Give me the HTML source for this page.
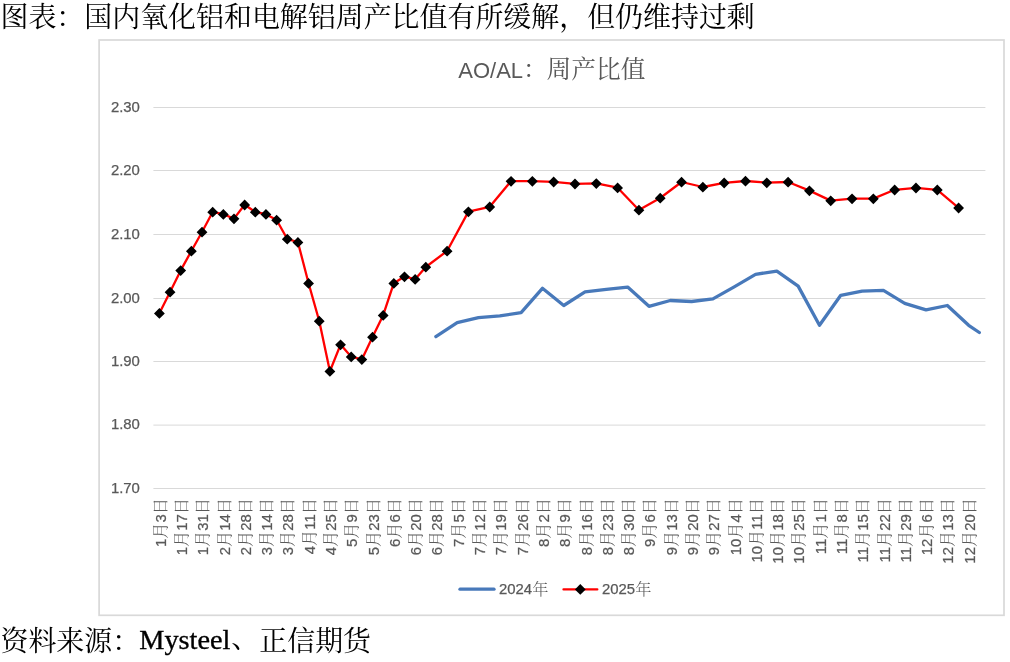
<!DOCTYPE html>
<html lang="zh-CN"><head><meta charset="utf-8"><title>chart</title>
<style>
html,body{margin:0;padding:0;background:#fff}
body{width:1010px;height:662px;position:relative;overflow:hidden}
.cap{position:absolute;left:0.5px;white-space:nowrap;font-family:"Liberation Serif","Noto Serif CJK SC",serif;font-size:27.95px;line-height:28px;color:#000;margin:0}
#t1{top:4.3px}
#t2{top:628.3px}
.lat{position:relative;left:-0.9px;top:-2.8px;font-size:28.3px;-webkit-text-stroke:0.35px #000}
.pc{position:relative;top:-3px}
svg text{font-family:"Liberation Sans","Noto Serif CJK SC",sans-serif;fill:#595959}
.ax{font-size:14.9px}
.ax text{font-size:14.9px}
.ax text,text.ax{stroke:#595959;stroke-width:0.25px}
.cj{font-family:"Noto Serif CJK SC",serif;font-size:16.2px;font-weight:300;stroke:none}
.ttl{font-size:22.0px}
.tcj{font-family:"Noto Serif CJK SC",serif;font-size:24.7px}
</style></head><body>
<svg width="1010" height="662" viewBox="0 0 1010 662" style="position:absolute;left:0;top:0">
<rect x="99.1" y="40" width="904.9" height="575.3" fill="#fff" stroke="#d9d9d9" stroke-width="1.7"/>
<line x1="153.4" x2="985.4" y1="107.5" y2="107.5" stroke="#d9d9d9" stroke-width="1"/>
<line x1="153.4" x2="985.4" y1="170.5" y2="170.5" stroke="#d9d9d9" stroke-width="1"/>
<line x1="153.4" x2="985.4" y1="234.5" y2="234.5" stroke="#d9d9d9" stroke-width="1"/>
<line x1="153.4" x2="985.4" y1="298.5" y2="298.5" stroke="#d9d9d9" stroke-width="1"/>
<line x1="153.4" x2="985.4" y1="361.5" y2="361.5" stroke="#d9d9d9" stroke-width="1"/>
<line x1="153.4" x2="985.4" y1="425.1" y2="425.1" stroke="#d9d9d9" stroke-width="1"/>
<line x1="153.4" x2="985.4" y1="488.5" y2="488.5" stroke="#d9d9d9" stroke-width="1"/>
<g class="ax" text-anchor="end">
<text x="139.9" y="111.6">2.30</text>
<text x="139.9" y="174.6">2.20</text>
<text x="139.9" y="238.6">2.10</text>
<text x="139.9" y="302.6">2.00</text>
<text x="139.9" y="365.6">1.90</text>
<text x="139.9" y="429.2">1.80</text>
<text x="139.9" y="492.6">1.70</text>
</g>
<g class="ax" text-anchor="end">
<text transform="translate(165.70,498.1) rotate(-90)">1<tspan class="cj">月</tspan>3<tspan class="cj">日</tspan></text>
<text transform="translate(186.99,498.1) rotate(-90)">1<tspan class="cj">月</tspan>17<tspan class="cj">日</tspan></text>
<text transform="translate(208.28,498.1) rotate(-90)">1<tspan class="cj">月</tspan>31<tspan class="cj">日</tspan></text>
<text transform="translate(229.57,498.1) rotate(-90)">2<tspan class="cj">月</tspan>14<tspan class="cj">日</tspan></text>
<text transform="translate(250.86,498.1) rotate(-90)">2<tspan class="cj">月</tspan>28<tspan class="cj">日</tspan></text>
<text transform="translate(272.15,498.1) rotate(-90)">3<tspan class="cj">月</tspan>14<tspan class="cj">日</tspan></text>
<text transform="translate(293.44,498.1) rotate(-90)">3<tspan class="cj">月</tspan>28<tspan class="cj">日</tspan></text>
<text transform="translate(314.73,498.1) rotate(-90)">4<tspan class="cj">月</tspan>11<tspan class="cj">日</tspan></text>
<text transform="translate(336.02,498.1) rotate(-90)">4<tspan class="cj">月</tspan>25<tspan class="cj">日</tspan></text>
<text transform="translate(357.31,498.1) rotate(-90)">5<tspan class="cj">月</tspan>9<tspan class="cj">日</tspan></text>
<text transform="translate(378.60,498.1) rotate(-90)">5<tspan class="cj">月</tspan>23<tspan class="cj">日</tspan></text>
<text transform="translate(399.89,498.1) rotate(-90)">6<tspan class="cj">月</tspan>6<tspan class="cj">日</tspan></text>
<text transform="translate(421.18,498.1) rotate(-90)">6<tspan class="cj">月</tspan>20<tspan class="cj">日</tspan></text>
<text transform="translate(442.47,498.1) rotate(-90)">6<tspan class="cj">月</tspan>28<tspan class="cj">日</tspan></text>
<text transform="translate(463.76,498.1) rotate(-90)">7<tspan class="cj">月</tspan>5<tspan class="cj">日</tspan></text>
<text transform="translate(485.05,498.1) rotate(-90)">7<tspan class="cj">月</tspan>12<tspan class="cj">日</tspan></text>
<text transform="translate(506.34,498.1) rotate(-90)">7<tspan class="cj">月</tspan>19<tspan class="cj">日</tspan></text>
<text transform="translate(527.63,498.1) rotate(-90)">7<tspan class="cj">月</tspan>26<tspan class="cj">日</tspan></text>
<text transform="translate(548.92,498.1) rotate(-90)">8<tspan class="cj">月</tspan>2<tspan class="cj">日</tspan></text>
<text transform="translate(570.21,498.1) rotate(-90)">8<tspan class="cj">月</tspan>9<tspan class="cj">日</tspan></text>
<text transform="translate(591.50,498.1) rotate(-90)">8<tspan class="cj">月</tspan>16<tspan class="cj">日</tspan></text>
<text transform="translate(612.79,498.1) rotate(-90)">8<tspan class="cj">月</tspan>23<tspan class="cj">日</tspan></text>
<text transform="translate(634.08,498.1) rotate(-90)">8<tspan class="cj">月</tspan>30<tspan class="cj">日</tspan></text>
<text transform="translate(655.37,498.1) rotate(-90)">9<tspan class="cj">月</tspan>6<tspan class="cj">日</tspan></text>
<text transform="translate(676.66,498.1) rotate(-90)">9<tspan class="cj">月</tspan>13<tspan class="cj">日</tspan></text>
<text transform="translate(697.95,498.1) rotate(-90)">9<tspan class="cj">月</tspan>20<tspan class="cj">日</tspan></text>
<text transform="translate(719.24,498.1) rotate(-90)">9<tspan class="cj">月</tspan>27<tspan class="cj">日</tspan></text>
<text transform="translate(740.53,498.1) rotate(-90)">10<tspan class="cj">月</tspan>4<tspan class="cj">日</tspan></text>
<text transform="translate(761.82,498.1) rotate(-90)">10<tspan class="cj">月</tspan>11<tspan class="cj">日</tspan></text>
<text transform="translate(783.11,498.1) rotate(-90)">10<tspan class="cj">月</tspan>18<tspan class="cj">日</tspan></text>
<text transform="translate(804.40,498.1) rotate(-90)">10<tspan class="cj">月</tspan>25<tspan class="cj">日</tspan></text>
<text transform="translate(825.69,498.1) rotate(-90)">11<tspan class="cj">月</tspan>1<tspan class="cj">日</tspan></text>
<text transform="translate(846.98,498.1) rotate(-90)">11<tspan class="cj">月</tspan>8<tspan class="cj">日</tspan></text>
<text transform="translate(868.27,498.1) rotate(-90)">11<tspan class="cj">月</tspan>15<tspan class="cj">日</tspan></text>
<text transform="translate(889.56,498.1) rotate(-90)">11<tspan class="cj">月</tspan>22<tspan class="cj">日</tspan></text>
<text transform="translate(910.85,498.1) rotate(-90)">11<tspan class="cj">月</tspan>29<tspan class="cj">日</tspan></text>
<text transform="translate(932.14,498.1) rotate(-90)">12<tspan class="cj">月</tspan>6<tspan class="cj">日</tspan></text>
<text transform="translate(953.43,498.1) rotate(-90)">12<tspan class="cj">月</tspan>13<tspan class="cj">日</tspan></text>
<text transform="translate(974.72,498.1) rotate(-90)">12<tspan class="cj">月</tspan>20<tspan class="cj">日</tspan></text>
</g>
<text class="ttl" x="458.3" y="77.6">AO/AL<tspan class="tcj">：</tspan><tspan class="tcj" dx="-1.2">周产比值</tspan></text>
<polyline points="435.86,336.7 457.17,322.7 478.48,317.7 499.79,315.9 521.10,312.7 542.42,288.3 563.73,305.5 585.04,291.9 606.35,289.4 627.66,287.1 648.98,306.3 670.29,300.5 691.60,301.5 712.91,298.9 734.22,286.9 755.54,274.3 776.85,271.1 798.16,286.1 819.47,325.3 840.78,295.3 862.10,291.1 883.41,290.3 904.72,303.3 926.03,309.9 947.34,305.5 968.66,325.3 979.31,332.5" fill="none" stroke="#4879ba" stroke-width="3.3" stroke-linejoin="round" stroke-linecap="round"/>
<polyline points="159.40,313.2 170.06,292 180.71,270.4 191.37,251 202.02,232 212.68,212 223.34,214.2 233.99,218.6 244.65,204.8 255.30,212 265.96,214.2 276.62,220 287.27,239 297.93,242.2 308.58,283.2 319.24,321 329.90,371.2 340.55,344.6 351.21,356.7 361.86,359.4 372.52,337 383.18,315.2 393.83,283.2 404.49,276.6 415.14,279.2 425.80,267 447.11,251 468.42,211.6 489.74,206.8 511.05,181.1 532.36,181.1 553.67,181.8 574.98,183.8 596.30,183.4 617.61,187.7 638.92,210 660.23,198 681.54,182 702.86,187 724.17,182.8 745.48,181 766.79,182.6 788.10,182 809.42,190.6 830.73,200.6 852.04,198.6 873.35,198.6 894.66,189.8 915.98,187.8 937.29,189.8 958.60,207.8" fill="none" stroke="#ff0000" stroke-width="2.3" stroke-linejoin="round" stroke-linecap="round"/>
<path d="M159.40,308.00l5.4,5.4l-5.4,5.4l-5.4,-5.4zM170.06,286.80l5.4,5.4l-5.4,5.4l-5.4,-5.4zM180.71,265.20l5.4,5.4l-5.4,5.4l-5.4,-5.4zM191.37,245.80l5.4,5.4l-5.4,5.4l-5.4,-5.4zM202.02,226.80l5.4,5.4l-5.4,5.4l-5.4,-5.4zM212.68,206.80l5.4,5.4l-5.4,5.4l-5.4,-5.4zM223.34,209.00l5.4,5.4l-5.4,5.4l-5.4,-5.4zM233.99,213.40l5.4,5.4l-5.4,5.4l-5.4,-5.4zM244.65,199.60l5.4,5.4l-5.4,5.4l-5.4,-5.4zM255.30,206.80l5.4,5.4l-5.4,5.4l-5.4,-5.4zM265.96,209.00l5.4,5.4l-5.4,5.4l-5.4,-5.4zM276.62,214.80l5.4,5.4l-5.4,5.4l-5.4,-5.4zM287.27,233.80l5.4,5.4l-5.4,5.4l-5.4,-5.4zM297.93,237.00l5.4,5.4l-5.4,5.4l-5.4,-5.4zM308.58,278.00l5.4,5.4l-5.4,5.4l-5.4,-5.4zM319.24,315.80l5.4,5.4l-5.4,5.4l-5.4,-5.4zM329.90,366.00l5.4,5.4l-5.4,5.4l-5.4,-5.4zM340.55,339.40l5.4,5.4l-5.4,5.4l-5.4,-5.4zM351.21,351.50l5.4,5.4l-5.4,5.4l-5.4,-5.4zM361.86,354.20l5.4,5.4l-5.4,5.4l-5.4,-5.4zM372.52,331.80l5.4,5.4l-5.4,5.4l-5.4,-5.4zM383.18,310.00l5.4,5.4l-5.4,5.4l-5.4,-5.4zM393.83,278.00l5.4,5.4l-5.4,5.4l-5.4,-5.4zM404.49,271.40l5.4,5.4l-5.4,5.4l-5.4,-5.4zM415.14,274.00l5.4,5.4l-5.4,5.4l-5.4,-5.4zM425.80,261.80l5.4,5.4l-5.4,5.4l-5.4,-5.4zM447.11,245.80l5.4,5.4l-5.4,5.4l-5.4,-5.4zM468.42,206.40l5.4,5.4l-5.4,5.4l-5.4,-5.4zM489.74,201.60l5.4,5.4l-5.4,5.4l-5.4,-5.4zM511.05,175.90l5.4,5.4l-5.4,5.4l-5.4,-5.4zM532.36,175.90l5.4,5.4l-5.4,5.4l-5.4,-5.4zM553.67,176.60l5.4,5.4l-5.4,5.4l-5.4,-5.4zM574.98,178.60l5.4,5.4l-5.4,5.4l-5.4,-5.4zM596.30,178.20l5.4,5.4l-5.4,5.4l-5.4,-5.4zM617.61,182.50l5.4,5.4l-5.4,5.4l-5.4,-5.4zM638.92,204.80l5.4,5.4l-5.4,5.4l-5.4,-5.4zM660.23,192.80l5.4,5.4l-5.4,5.4l-5.4,-5.4zM681.54,176.80l5.4,5.4l-5.4,5.4l-5.4,-5.4zM702.86,181.80l5.4,5.4l-5.4,5.4l-5.4,-5.4zM724.17,177.60l5.4,5.4l-5.4,5.4l-5.4,-5.4zM745.48,175.80l5.4,5.4l-5.4,5.4l-5.4,-5.4zM766.79,177.40l5.4,5.4l-5.4,5.4l-5.4,-5.4zM788.10,176.80l5.4,5.4l-5.4,5.4l-5.4,-5.4zM809.42,185.40l5.4,5.4l-5.4,5.4l-5.4,-5.4zM830.73,195.40l5.4,5.4l-5.4,5.4l-5.4,-5.4zM852.04,193.40l5.4,5.4l-5.4,5.4l-5.4,-5.4zM873.35,193.40l5.4,5.4l-5.4,5.4l-5.4,-5.4zM894.66,184.60l5.4,5.4l-5.4,5.4l-5.4,-5.4zM915.98,182.60l5.4,5.4l-5.4,5.4l-5.4,-5.4zM937.29,184.60l5.4,5.4l-5.4,5.4l-5.4,-5.4zM958.60,202.60l5.4,5.4l-5.4,5.4l-5.4,-5.4z" fill="#000"/>
<line x1="460" x2="494" y1="589.2" y2="589.2" stroke="#4879ba" stroke-width="3.3" stroke-linecap="round"/>
<text class="ax" x="499" y="594.2">2024<tspan class="cj" dy="0.5">年</tspan></text>
<line x1="563.5" x2="597.3" y1="589.4" y2="589.4" stroke="#ff0000" stroke-width="2.3" stroke-linecap="round"/>
<path d="M580.3,584.0l5.4,5.4l-5.4,5.4l-5.4,-5.4z" fill="#000"/>
<text class="ax" x="602" y="594.2">2025<tspan class="cj" dy="0.5">年</tspan></text>
</svg>
<p class="cap" id="t1">图表：国内氧化铝和电解铝周产比值有所缓解，但仍维持过剩</p>
<p class="cap" id="t2">资料来源：<span class="lat">Mysteel</span><span class="pc">、</span>正信期货</p>
</body></html>
